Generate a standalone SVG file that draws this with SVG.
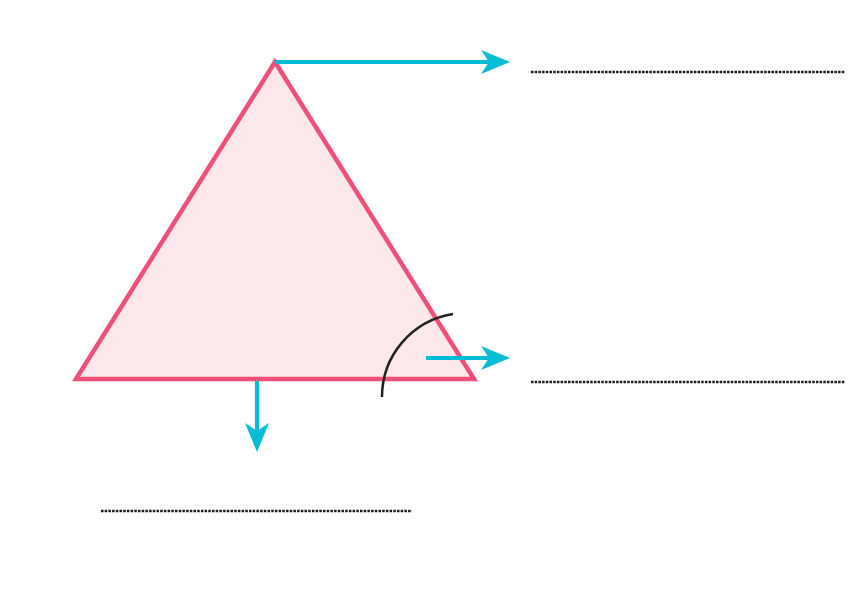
<svg xmlns="http://www.w3.org/2000/svg" width="856" height="600" viewBox="0 0 856 600">
<style>
.arr{stroke:#00BCD4;stroke-width:4;fill:none}
.dot{stroke:#1a1a1a;stroke-width:2.5;stroke-dasharray:2.5 1.2;fill:none}
</style>
<defs>
<marker id="ah" markerUnits="userSpaceOnUse" viewBox="0 0 30 24" markerWidth="30" markerHeight="24" refX="10" refY="12" orient="auto" overflow="visible">
<path d="M0,0 L29,12 L0,24 L8,12 Z" fill="#00BCD4"/>
</marker>
</defs>
<rect width="856" height="600" fill="#fff"/>
<g id="triangle">
<polygon points="275,62 76,379 474,379" fill="#FCE8EA" stroke="#EF4F78" stroke-width="4.5" stroke-linejoin="miter"/>
</g>
<g id="angle-arc">
<path d="M382,397 A84,84 0 0 1 453,314" fill="none" stroke="#222" stroke-width="2.5"/>
</g>
<g id="connectors">
<line class="arr" x1="275" y1="62" x2="491" y2="62" marker-end="url(#ah)"/>
<line class="arr" x1="426" y1="358" x2="491" y2="358" marker-end="url(#ah)"/>
<line class="arr" x1="257" y1="381" x2="257" y2="433" marker-end="url(#ah)"/>
</g>
<g id="blank1"><line class="dot" x1="531" y1="72" x2="845" y2="72"/></g>
<g id="blank2"><line class="dot" x1="531" y1="382" x2="845" y2="382"/></g>
<g id="blank3"><line class="dot" x1="101" y1="511" x2="412" y2="511"/></g>
</svg>
